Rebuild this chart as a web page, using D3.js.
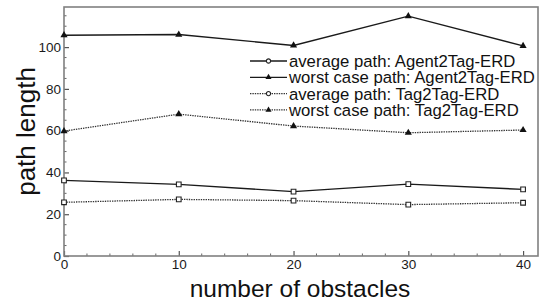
<!DOCTYPE html>
<html>
<head>
<meta charset="utf-8">
<script src="https://cdn.jsdelivr.net/npm/d3@7"></script>
<style>
  body { margin: 0; background: #fff; }
  text { font-family: "Liberation Sans", Arial, Helvetica, sans-serif; }
</style>
</head>
<body>
<div id="chart"></div>
<script>
const obstacles = [0, 10, 20, 30, 40];
const avgAgent2Tag = [36.2, 34.3, 30.8, 34.4, 31.9];
const worstAgent2Tag = [105.7, 106.0, 100.8, 114.8, 100.6];
const avgTag2Tag = [25.7, 27.1, 26.5, 24.6, 25.5];
const worstTag2Tag = [59.8, 67.9, 62.2, 59.0, 60.3];
const seriesNames = [
    "average path: Agent2Tag-ERD",
    "worst case path: Agent2Tag-ERD",
    "average path: Tag2Tag-ERD",
    "worst case path: Tag2Tag-ERD"
];
const xTicks = [0, 10, 20, 30, 40];
const yTicks = [0, 20, 40, 60, 80, 100];

const series = [
    { name: seriesNames[0], values: avgAgent2Tag, dotted: false, marker: "square" },
    { name: seriesNames[1], values: worstAgent2Tag, dotted: false, marker: "triangle" },
    { name: seriesNames[2], values: avgTag2Tag, dotted: true, marker: "square" },
    { name: seriesNames[3], values: worstTag2Tag, dotted: true, marker: "triangle" }
];

const W = 545, H = 304;
const margin = { top: 7, right: 7, bottom: 48, left: 64 };
const width = W - margin.left - margin.right;
const height = H - margin.top - margin.bottom;

const svg = d3.select("#chart").append("svg")
    .attr("width", W)
    .attr("height", H);

const g = svg.append("g")
    .attr("transform", "translate(" + margin.left + "," + margin.top + ")");

const x = d3.scaleLinear().domain([0, 41.3]).range([0, width]);
const y = d3.scaleLinear().domain([0, 119.2]).range([height, 0]);

// minor ticks
g.selectAll(".xminor")
    .data(d3.range(0, 41, 2).filter(d => d % 10 != 0))
    .join("line")
    .attr("x1", d => x(d)).attr("x2", d => x(d))
    .attr("y1", height).attr("y2", height - 2.5)
    .attr("stroke", "#666").attr("stroke-width", 1);

g.selectAll(".yminor")
    .data(d3.range(0, 116, 5).filter(d => d % 20 != 0))
    .join("line")
    .attr("x1", 0).attr("x2", 2.5)
    .attr("y1", d => y(d)).attr("y2", d => y(d))
    .attr("stroke", "#666").attr("stroke-width", 1);

// major ticks, pointing in
const xAxis = g.append("g")
    .attr("transform", "translate(0," + height + ")")
    .call(d3.axisBottom(x).tickValues(xTicks).tickSize(-5).tickPadding(3));
const yAxis = g.append("g")
    .call(d3.axisLeft(y).tickValues(yTicks).tickSize(-5).tickPadding(3));

[xAxis, yAxis].forEach(a => {
    a.select(".domain").remove();
    a.selectAll(".tick line").attr("stroke", "#555").attr("stroke-width", 1.2);
    a.selectAll(".tick text")
        .attr("fill", "#1a1a1a")
        .style("font-size", "13.5px");
});

// frame
g.append("rect")
    .attr("width", width).attr("height", height)
    .attr("fill", "none")
    .attr("stroke", "#808080")
    .attr("stroke-width", 1.6);

const lineFn = d3.line()
    .x((d, i) => x(obstacles[i]))
    .y(d => y(d));

const tri = d3.symbol().type(d3.symbolTriangle).size(22);
const sq = d3.symbol().type(d3.symbolSquare).size(22);

function drawMarker(sel, marker) {
    if (marker == "square") {
        sel.attr("d", sq)
            .attr("fill", "#fff")
            .attr("stroke", "#222")
            .attr("stroke-width", 1.1);
    } else {
        sel.attr("d", tri)
            .attr("fill", "#111");
    }
}

series.forEach(s => {
    g.append("path")
        .datum(s.values)
        .attr("fill", "none")
        .attr("stroke", s.dotted ? "#333" : "#1a1a1a")
        .attr("stroke-width", s.dotted ? 1.3 : 1.4)
        .attr("stroke-dasharray", s.dotted ? "1.4,1" : null)
        .attr("d", lineFn);

    g.selectAll(null)
        .data(s.values)
        .join("path")
        .attr("transform", (d, i) => "translate(" + x(obstacles[i]) + "," + y(d) + ")")
        .call(drawMarker, s.marker);
});

// legend
const legend = svg.append("g").attr("transform", "translate(250,61)");
series.forEach((s, i) => {
    const row = legend.append("g").attr("transform", "translate(0," + (i * 16.3) + ")");
    row.append("line")
        .attr("x1", 0).attr("x2", 37)
        .attr("stroke", s.dotted ? "#333" : "#1a1a1a")
        .attr("stroke-width", s.dotted ? 1.2 : 1.3)
        .attr("stroke-dasharray", s.dotted ? "1.4,1" : null);
    row.append("path")
        .attr("transform", "translate(18.5,0)")
        .call(drawMarker, s.marker)
        .attr("d", s.marker == "square" ? d3.symbol().type(d3.symbolCircle).size(14) : d3.symbol().type(d3.symbolTriangle).size(16));
    row.append("text")
        .attr("x", 39).attr("y", 0)
        .attr("dy", "0.36em")
        .attr("fill", "#111")
        .style("font-size", "16.7px")
        .text(s.name);
});

// axis titles
svg.append("text")
    .attr("x", margin.left + width / 2 - 1)
    .attr("y", 297)
    .attr("text-anchor", "middle")
    .attr("fill", "#111")
    .style("font-size", "24.5px")
    .text("number of obstacles");

svg.append("text")
    .attr("transform", "translate(35," + (margin.top + height / 2) + ") rotate(-90)")
    .attr("text-anchor", "middle")
    .attr("fill", "#111")
    .style("font-size", "26px")
    .text("path length");
</script>
</body>
</html>
